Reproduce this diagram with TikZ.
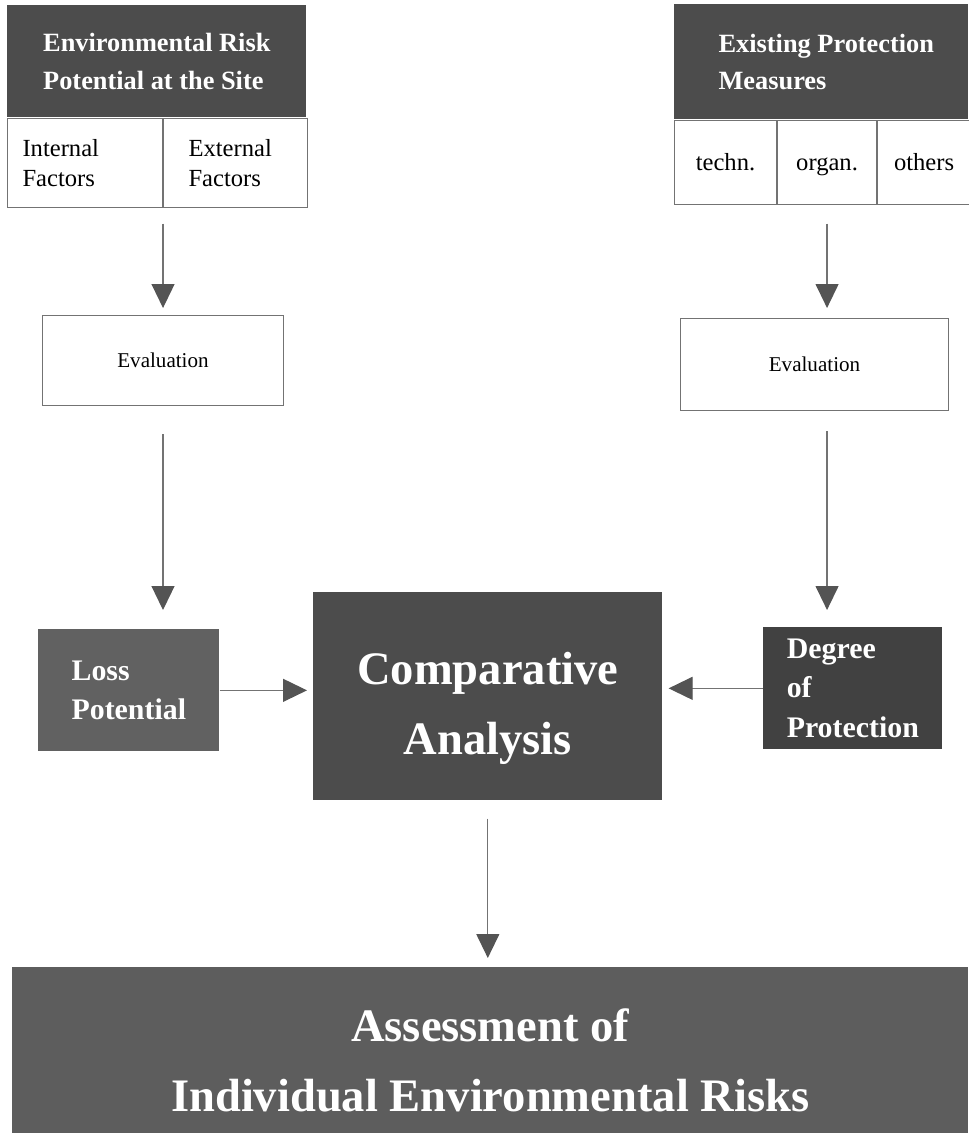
\documentclass[tikz,border=0pt]{standalone}
\usepackage{fontspec}
\setmainfont{Liberation Serif}
\usetikzlibrary{arrows.meta,positioning}
\definecolor{darkbox}{gray}{0.30}
\definecolor{lossbox}{gray}{0.38}
\definecolor{framegray}{gray}{0.45}
\definecolor{tipgray}{gray}{0.33}

\tikzset{
  darkcell/.style={draw=none, fill=darkbox, text=white, inner sep=0pt, anchor=north west},
  whitecell/.style={draw=framegray, line width=0.6pt, fill=white, inner sep=0pt, anchor=north west},
  flow/.style={draw=framegray, line width=0.7pt, -{Triangle[length=0.48cm,width=0.46cm,color=tipgray]}},
}

\begin{document}
\begin{tikzpicture}[x=0.02cm,y=-0.02cm]
\useasboundingbox (0,0) rectangle (968,1133);

% left column
\node[darkcell, minimum width=5.98cm, minimum height=2.24cm, align=left,
      font=\fontsize{15}{21.5}\selectfont\bfseries] (riskhead) at (7,5)
      {Environmental Risk\\Potential at the Site};
\node[whitecell, minimum width=3.1cm, minimum height=1.78cm, text width=2.5cm, align=left,
      font=\fontsize{14}{17}\selectfont] (internal) at (riskhead.south west)
      {Internal\\Factors};
\node[whitecell, minimum width=2.88cm, minimum height=1.78cm, text width=1.88cm, align=left,
      font=\fontsize{14}{17}\selectfont] (external) at (internal.north east)
      {External\\Factors};
\node[whitecell, minimum width=4.82cm, minimum height=1.8cm,
      font=\fontsize{12}{15}\selectfont] (evalrisk) at (42,315) {Evaluation};
\node[darkcell, fill=lossbox, minimum width=3.62cm, minimum height=2.44cm, align=left,
      font=\fontsize{17}{22.7}\selectfont\bfseries] (loss) at (38,629)
      {Loss\\Potential};

% right column
\node[darkcell, minimum width=5.88cm, minimum height=2.3cm, align=left, text depth=0pt,
      font=\fontsize{15}{21.5}\selectfont\bfseries] (protecthead) at (674,4)
      {\hspace*{0.2cm}Existing Protection\\\hspace*{0.2cm}Measures};
\tikzset{factor/.style={whitecell, minimum height=1.68cm, text height=1.2em, text depth=0.22em,
      font=\fontsize{14}{17}\selectfont}}
\node[factor, minimum width=2.04cm] (techn) at (protecthead.south west) {techn.};
\node[factor, minimum width=1.98cm] (organ) at (techn.north east) {organ.};
\node[factor, minimum width=1.86cm] (others) at (organ.north east) {others};
\node[whitecell, minimum width=5.36cm, minimum height=1.84cm,
      font=\fontsize{12}{15}\selectfont] (evalprot) at (680,318) {Evaluation};
\node[darkcell, fill=darkbox!85!black, minimum width=3.58cm, minimum height=2.44cm, align=left,
      font=\fontsize{17}{22.7}\selectfont\bfseries] (degree) at (763,627)
      {Degree\\of\\Protection};

% centre
\node[darkcell, minimum width=6.98cm, minimum height=4.16cm, align=center,
      font=\fontsize{26.5}{39.7}\selectfont\bfseries] (compare) at (313,592)
      {\rule{0pt}{32pt}Comparative\\Analysis};
\node[darkcell, fill=lossbox!80!darkbox, minimum width=19.12cm, minimum height=3.32cm, align=center,
      font=\fontsize{26.5}{39.7}\selectfont\bfseries] (assess) at (12,967)
      {\rule{0pt}{30pt}Assessment of\\Individual Environmental Risks};

% connectors
\draw[flow, shorten <=0.32cm, shorten >=0.14cm] (internal.south east) -- (internal.south east |- evalrisk.north);
\draw[flow, shorten <=0.56cm, shorten >=0.38cm] (evalrisk.south) -- (evalrisk.south |- loss.north);
\draw[flow, shorten >=0.12cm] (loss.east) -- (loss.east -| compare.west);
\draw[flow, shorten <=0.38cm, shorten >=0.2cm] (organ.south) -- (organ.south |- evalprot.north);
\draw[flow, shorten <=0.4cm, shorten >=0.34cm] (organ.south |- evalprot.south) -- (organ.south |- degree.north);
\draw[flow, shorten >=0.12cm] (degree.west) -- (degree.west -| compare.east);
\draw[flow, shorten <=0.36cm, shorten >=0.18cm] (compare.south) -- (compare.south |- assess.north);
\end{tikzpicture}
\end{document}
